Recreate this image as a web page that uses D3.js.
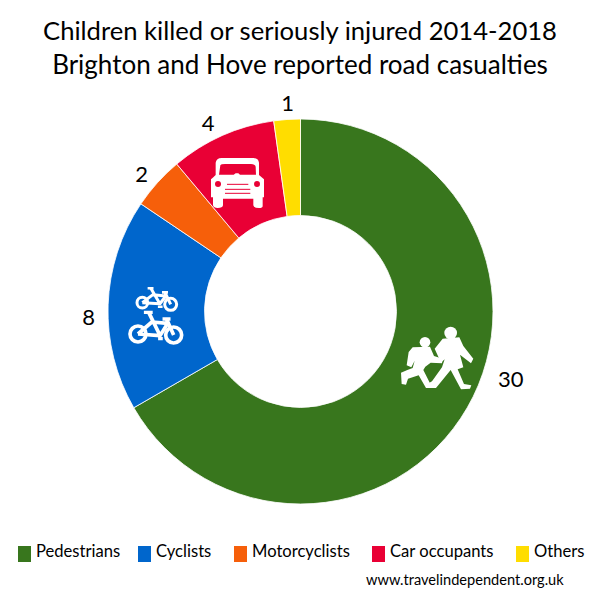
<!DOCTYPE html>
<html>
<head>
<meta charset="utf-8">
<script src="https://cdn.jsdelivr.net/npm/d3@7"></script>
<style>
html,body{margin:0;padding:0;background:#fff}
svg{display:block}
text{font-family:Lato,"Open Sans",sans-serif;fill:#000}
</style>
</head>
<body>
<svg id="c" width="600" height="600"></svg>
<script>
const titleLines = ["Children killed or seriously injured 2014-2018", "Brighton and Hove reported road casualties"];
const categories = ["Pedestrians", "Cyclists", "Motorcyclists", "Car occupants", "Others"];
const values = [30, 8, 2, 4, 1];
const colors = ["#38761d", "#0066cc", "#f65f0a", "#e90035", "#ffdd00"];
const credit = "www.travelindependent.org.uk";

const svg = d3.select("#c");
const cx = 300.5, cy = 311.5, outer = 192.5, inner = 96;

svg.append("g").selectAll("text").data(titleLines).join("text")
  .attr("x", 300).attr("y", (d, i) => 40 + i * 34)
  .attr("text-anchor", "middle").attr("font-size", (d, i) => i === 0 ? 25.6 : 26)
  .text(d => d);

const pie = d3.pie().sort(null).value(d => d)(values);
const arc = d3.arc().innerRadius(inner).outerRadius(outer);
const g = svg.append("g").attr("transform", `translate(${cx},${cy})`);
g.selectAll("path").data(pie).join("path")
  .attr("d", arc)
  .attr("fill", (d, i) => colors[i])
  .attr("stroke", "#fff").attr("stroke-width", 0.8);

// value labels: radial anchor plus a per-slice nudge
const labelArc = d3.arc().innerRadius(215).outerRadius(215);
const nudges = [[24, -41], [3, 13], [1, 6], [-5, 7], [2, 5]];
g.selectAll("text").data(pie).join("text")
  .attr("transform", (d, i) => {
    const c = labelArc.centroid(d);
    return `translate(${c[0] + nudges[i][0]},${c[1] + nudges[i][1]})`;
  })
  .attr("text-anchor", "middle").attr("dominant-baseline", "central")
  .attr("font-size", 22)
  .text(d => d.data);

// pictograms, drawn in zoom-crop units (1/3 px)
const walkers = svg.append("g").attr("transform", "translate(380,310) scale(0.3333)").attr("fill", "#fff");
walkers.append("circle").attr("cx", 212).attr("cy", 69).attr("r", 19);
walkers.append("circle").attr("cx", 135).attr("cy", 97).attr("r", 16);
walkers.append("path").attr("d", "M188 86 L238 82 L250 108 L280 146 L273 160 L240 134 L250 172 L233 178 L252 222 L274 226 L270 236 L243 238 L212 180 L168 234 L138 234 L138 224 L156 214 L186 172 L194 148 L183 158 L164 116 Z");
walkers.append("path").attr("d", "M98 112 L150 110 L162 138 L188 146 L186 160 L152 158 L136 170 L130 180 L153 226 L138 234 L116 196 L84 206 L78 224 L65 222 L63 188 L82 180 L98 174 L104 152 L94 172 L80 166 L86 126 Z");

const bikes = svg.append("g").attr("transform", "translate(110,270) scale(0.3333)")
  .attr("fill", "none").attr("stroke", "#fff").attr("stroke-linejoin", "round");
function bike(wx1, wy1, r1, wx2, wy2, r2, sw) {
  const b = bikes.append("g").attr("stroke-width", sw);
  b.append("circle").attr("cx", wx1).attr("cy", wy1).attr("r", r1);
  b.append("circle").attr("cx", wx2).attr("cy", wy2).attr("r", r2);
  const sx = wx1 + (wx2 - wx1) * 0.3, sy = wy1 - r1 * 2.7;
  const hx = wx1 + (wx2 - wx1) * 0.8, hy = wy2 - r2 * 2;
  const mx = wx1 + (wx2 - wx1) * 0.62, my = wy1 + r1 * 0.2;
  const ty = wy1 - r1 * 1.5;
  b.append("path").attr("d", `M${wx1} ${wy1} L${sx + r1 * 0.4} ${ty} L${hx + r2 * 0.15} ${ty + 4} L${mx} ${my} L${sx} ${sy} M${wx1} ${wy1} L${mx} ${my} M${hx} ${hy} L${wx2} ${wy2}`);
  b.append("path").attr("stroke-width", sw * 0.9).attr("d", `M${sx - r1 * 0.6} ${sy} L${sx + r1 * 0.5} ${sy} M${hx - r2 * 0.5} ${hy} L${hx + r2 * 0.5} ${hy} M${mx - 6} ${my + 9} L${mx + 8} ${my + 9}`);
}
bike(97, 98, 16, 182, 103, 18, 9);
bike(84, 192, 24, 191, 195, 24, 11);

const car = svg.append("g").attr("transform", "translate(195,140) scale(0.3333)");
car.append("path").attr("fill", "#fff")
  .attr("d", "M62 105 L62 68 Q64 54 80 54 L175 54 Q190 54 192 68 L192 105 L200 112 L207 118 L207 172 L203 172 L203 198 Q203 204 192 204 Q176 204 175 196 L175 176 L84 176 L84 196 Q83 204 68 204 Q56 204 54 196 L54 172 L48 172 L48 118 L55 112 Z");
car.append("path").attr("fill", "#e90035")
  .attr("d", "M76 76 Q78 72 90 72 L168 72 Q180 72 182 80 L183 104 L135 104 L130 100 L122 100 L116 104 L72 104 Z");
car.append("circle").attr("cx", 69).attr("cy", 132).attr("r", 9).attr("fill", "#e90035");
car.append("circle").attr("cx", 186).attr("cy", 132).attr("r", 9).attr("fill", "#e90035");
car.append("path").attr("stroke", "#e90035").attr("stroke-width", 3).attr("fill", "none")
  .attr("d", "M96 133 L160 133 M90 148 L166 148 M90 160 L166 160");

const legendX = d3.scaleOrdinal().domain(categories).range([18, 138, 234, 372, 516]);
const leg = svg.append("g").selectAll("g").data(categories).join("g")
  .attr("transform", d => `translate(${legendX(d)},546)`);
leg.append("rect").attr("width", 13).attr("height", 16).attr("fill", (d, i) => colors[i]);
leg.append("text").attr("x", 18).attr("y", 11).attr("font-size", 16.6).text(d => d);

svg.append("text").attr("x", 366).attr("y", 585).attr("font-size", 14.6).text(credit);
</script>
</body>
</html>
